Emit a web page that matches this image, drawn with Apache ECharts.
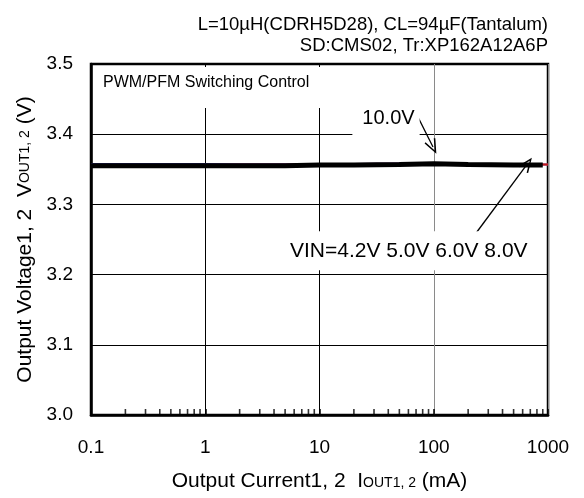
<!DOCTYPE html>
<html><head><meta charset="utf-8">
<script src="https://cdn.jsdelivr.net/npm/echarts@6/dist/echarts.min.js"></script>
<style>html,body{margin:0;padding:0;background:#fff}#c{width:584px;height:498px}</style>
</head><body><div id="c"></div>
<script>
const xTicks = [0.1, 1, 10, 100, 1000];
const minorTicks = [0.2,0.3,0.4,0.5,0.6,0.7,0.8,0.9,2,3,4,5,6,7,8,9,20,30,40,50,60,70,80,90,200,300,400,500,600,700,800,900];
const current = [0.1, 0.2, 0.5, 1, 2, 5, 10, 20, 50, 100, 200, 500, 800, 1000];
const vin42 = [3.358, 3.358, 3.358, 3.358, 3.358, 3.358, 3.358, 3.358, 3.358, 3.358, 3.358, 3.357, 3.357, 3.357];
const vin50 = [3.357, 3.357, 3.357, 3.357, 3.358, 3.358, 3.358, 3.358, 3.359, 3.359, 3.358, 3.357, 3.357, 3.357];
const vin60 = [3.356, 3.356, 3.356, 3.356, 3.357, 3.357, 3.357, 3.357, 3.358, 3.358, 3.358, 3.357, 3.357, 3.357];
const vin80 = [3.356, 3.356, 3.356, 3.356, 3.356, 3.356, 3.357, 3.357, 3.357, 3.358, 3.357, 3.357, 3.357, 3.357];
const vin100 = [3.355, 3.355, 3.355, 3.355, 3.355, 3.355, 3.356, 3.356, 3.357, 3.358, 3.357, 3.356, 3.356];
const current100 = [0.1, 0.2, 0.5, 1, 2, 5, 10, 20, 50, 100, 200, 500, 900];
const yMin = 3.0, yMax = 3.5, yStep = 0.1;
const topLines = ['L=10\u00b5H(CDRH5D28), CL=94\u00b5F(Tantalum)', 'SD:CMS02, Tr:XP162A12A6P'];

const F = '"Liberation Sans", Arial, sans-serif';
const chart = echarts.init(document.getElementById('c'), null, {renderer:'canvas'});
const line = (name, xs, ys, color, w, z) => ({
  name, type:'line', data: xs.map((x,i)=>[x, ys[i]]), symbol:'none', z,
  lineStyle:{color, width:w}, animation:false
});
const openArrow = 'path://M0,0L6,12L4.6,12.6L0,3L-4.6,12.6L-6,12Z';
chart.setOption({
  animation:false,
  grid:{left:91, right:36, top:64, bottom:83, show:true, borderColor:'#000', borderWidth:2.5, backgroundColor:'transparent'},
  graphic:[
    {type:'text', x:548, y:25, style:{text:topLines[0], align:'right', verticalAlign:'middle', font:'18.5px '+F, fill:'#000'}},
    {type:'text', x:548, y:46, style:{text:topLines[1], align:'right', verticalAlign:'middle', font:'18.5px '+F, fill:'#000'}}
  ],
  xAxis:{type:'log', min:xTicks[0], max:xTicks[xTicks.length-1], logBase:10,
    axisLine:{show:true, lineStyle:{color:'#000', width:2.5}},
    axisTick:{show:true, inside:true, length:6, lineStyle:{color:'#000', width:1.5}},
    axisLabel:{fontSize:19, fontFamily:F, color:'#000', margin:23, formatter:v=>String(+v.toPrecision(3))},
    splitLine:{show:true, lineStyle:{color:['#000','#000','#000','#8a8a8a','#8a8a8a'], width:1}},
    name:'Output Current1, 2  I{s|OUT1, 2} (mA)', nameLocation:'middle', nameGap:56,
    nameTextStyle:{fontSize:21, fontFamily:F, color:'#000', rich:{s:{fontSize:14, fontFamily:F, color:'#000', padding:[4,0,0,0]}}}
  },
  yAxis:{type:'value', min:yMin, max:yMax, interval:yStep,
    axisLine:{show:true, lineStyle:{color:'#000', width:2.5}},
    axisTick:{show:true, inside:true, length:6, lineStyle:{color:'#000'}},
    axisLabel:{fontSize:19, fontFamily:F, color:'#000', margin:18, formatter:v=>v.toFixed(1)},
    splitLine:{show:true, lineStyle:{color:'#000', width:1}},
    name:'Output Voltage1, 2  V{s|OUT1, 2} (V)', nameLocation:'middle', nameGap:54, nameRotate:90,
    nameTextStyle:{fontSize:21, fontFamily:F, color:'#000', rich:{s:{fontSize:14, fontFamily:F, color:'#000'}}}
  },
  series:[
    {type:'scatter', data: minorTicks.map(v=>[v, yMin]), symbol:'rect', symbolSize:[1.6,6], symbolOffset:[0,-3], itemStyle:{color:'#000'}, silent:true, z:5, clip:false},
    line('4.2V', current, vin42, '#1a2a9a', 1.5, 6),
    line('5.0V', current, vin50, '#8a5aa8', 1.5, 7),
    line('6.0V', current, vin60, '#c04a7a', 1.5, 8),
    line('8.0V', current, vin80, '#c01818', 2, 9),
    Object.assign(line('10.0V', current100, vin100, '#000', 5, 10), {
      markLine:{silent:true, symbol:['none', openArrow], symbolSize:[12,15], animation:false,
        lineStyle:{color:'#000', width:1.3, type:'solid'}, label:{show:false},
        data:[
          [{coord:[71.3, 3.4274]}, {coord:[98.5, 3.3818]}],
          [{coord:[228, 3.2564]}, {coord:[660, 3.3577]}]
        ]},
      markPoint:{silent:true, symbol:'rect', symbolSize:0, animation:false,
        data:[
          {coord:[0.1, 3.5], label:{show:true, position:'inside', align:'left', verticalAlign:'top', offset:[2,3], formatter:'PWM/PFM Switching Control', fontSize:16, fontFamily:F, color:'#000', backgroundColor:'#fff', padding:[8,12,17,10]}},
          {coord:[38.2, 3.422], label:{show:true, position:'inside', formatter:'10.0V', fontSize:20, fontFamily:F, color:'#000', backgroundColor:'#fff', padding:[4,5,9,10]}},
          {coord:[5.3, 3.234], label:{show:true, position:'inside', align:'left', formatter:'VIN=4.2V 5.0V 6.0V 8.0V', fontSize:21, fontFamily:F, color:'#000', backgroundColor:'#fff', padding:[9,2,9,2]}}
        ]}
    })
  ]
});
</script></body></html>
